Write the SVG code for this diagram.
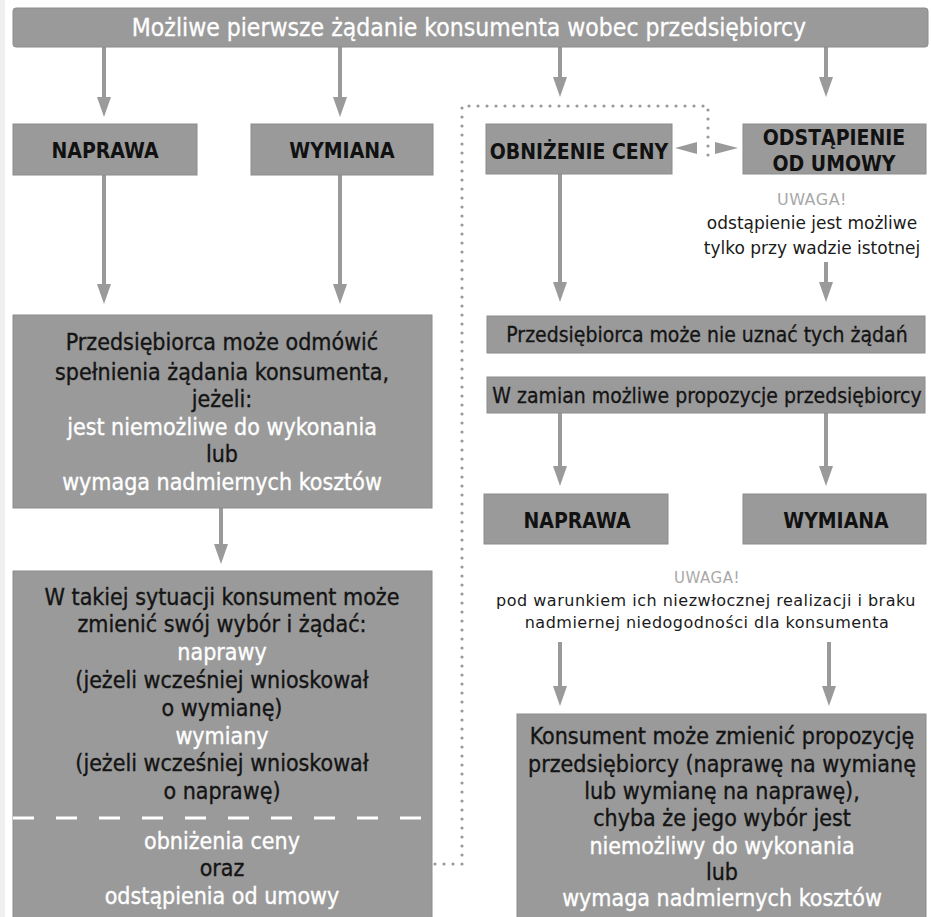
<svg xmlns="http://www.w3.org/2000/svg" width="931" height="917" viewBox="0 0 931 917">
<defs>
<style>
.box{fill:#9a9a9a;stroke:#8c8c8c;stroke-width:1}
.t{font-family:"DejaVu Sans Condensed","DejaVu Sans",sans-serif;text-anchor:middle}
.body{font-size:23px;stroke-width:0.35}
.mid{font-size:21px;stroke-width:0.3}
.lbl{font-size:21px;font-weight:bold;fill:#111}
.blk{fill:#141414;stroke:#141414}
.wht{fill:#ffffff;stroke:#ffffff}
.note{font-family:"DejaVu Sans",sans-serif;text-anchor:middle;fill:#1a1a1a;font-size:16px;letter-spacing:0.5px}
.uw{fill:#a8a8a8}
.conn{stroke:#9a9a9a;stroke-width:4;fill:none}
.dot{stroke:#9a9a9a;stroke-width:3.2;fill:none;stroke-dasharray:0 9;stroke-linecap:round}
.head{fill:#9a9a9a}
</style>
<marker id="arr" viewBox="0 0 20 14" refX="1" refY="7" markerWidth="20" markerHeight="14" markerUnits="userSpaceOnUse" orient="auto">
<path d="M0,0 L20,7 L0,14 z" fill="#9a9a9a"/>
</marker>
</defs>
<rect x="0" y="0" width="931" height="917" fill="#ffffff"/>
<rect x="0" y="0" width="5" height="917" fill="#efefef"/>

<g id="connectors">
<line class="conn" x1="104" y1="47" x2="104" y2="98" marker-end="url(#arr)"/>
<line class="conn" x1="340" y1="47" x2="340" y2="98" marker-end="url(#arr)"/>
<line class="conn" x1="560" y1="47" x2="560" y2="78" marker-end="url(#arr)"/>
<line class="conn" x1="826" y1="47" x2="826" y2="78" marker-end="url(#arr)"/>
<line class="conn" x1="104" y1="175" x2="104" y2="285" marker-end="url(#arr)"/>
<line class="conn" x1="340" y1="175" x2="340" y2="285" marker-end="url(#arr)"/>
<line class="conn" x1="560" y1="174" x2="560" y2="283" marker-end="url(#arr)"/>
<line class="conn" x1="826" y1="262" x2="826" y2="283" marker-end="url(#arr)"/>
<line class="conn" x1="221" y1="508" x2="221" y2="545" marker-end="url(#arr)"/>
<line class="conn" x1="560" y1="413" x2="560" y2="467" marker-end="url(#arr)"/>
<line class="conn" x1="826" y1="413" x2="826" y2="467" marker-end="url(#arr)"/>
<line class="conn" x1="560" y1="642" x2="560" y2="687" marker-end="url(#arr)"/>
<line class="conn" x1="829" y1="642" x2="829" y2="687" marker-end="url(#arr)"/>
<path class="dot" d="M435,864 H462 V106 H708 V157"/>
<polygon class="head" points="675,148 697,142 697,154"/>
<polygon class="head" points="738,148 715,142 715,154"/>
</g>

<g id="title">
<rect class="box" x="13" y="8" width="915" height="39" rx="3"/>
<text class="t wht" x="469" y="36" font-size="24.5" stroke-width="0.3">Możliwe pierwsze żądanie konsumenta wobec przedsiębiorcy</text>
</g>

<g id="naprawa1">
<rect class="box" x="13" y="124" width="184" height="51"/>
<text class="t lbl" x="105" y="158">NAPRAWA</text>
</g>

<g id="wymiana1">
<rect class="box" x="251" y="124" width="182" height="51"/>
<text class="t lbl" x="342" y="158">WYMIANA</text>
</g>

<g id="obnizenie">
<rect class="box" x="486" y="124" width="186" height="50"/>
<text class="t lbl" x="579" y="159">OBNIŻENIE CENY</text>
</g>

<g id="odstapienie">
<rect class="box" x="743" y="124" width="183" height="50"/>
<text class="t lbl" x="834" y="145">ODSTĄPIENIE</text>
<text class="t lbl" x="834" y="171">OD UMOWY</text>
</g>

<g id="uwaga1">
<text class="note uw" x="812" y="205">UWAGA!</text>
<text class="note" x="812" y="229" style="font-size:17px;letter-spacing:0">odstąpienie jest możliwe</text>
<text class="note" x="812" y="254" style="font-size:17px;letter-spacing:0">tylko przy wadzie istotnej</text>
</g>

<g id="odmowa">
<rect class="box" x="13" y="315" width="419" height="193"/>
<text class="t body blk" x="222" y="350">Przedsiębiorca może odmówić</text>
<text class="t body blk" x="222" y="380">spełnienia żądania konsumenta,</text>
<text class="t body blk" x="222" y="407">jeżeli:</text>
<text class="t body wht" x="222" y="435">jest niemożliwe do wykonania</text>
<text class="t body blk" x="222" y="462">lub</text>
<text class="t body wht" x="222" y="490">wymaga nadmiernych kosztów</text>
</g>

<g id="zmiana">
<rect class="box" x="13" y="571" width="419" height="360"/>
<text class="t body blk" x="222" y="605">W takiej sytuacji konsument może</text>
<text class="t body blk" x="222" y="632">zmienić swój wybór i żądać:</text>
<text class="t body wht" x="222" y="660">naprawy</text>
<text class="t body blk" x="222" y="688">(jeżeli wcześniej wnioskował</text>
<text class="t body blk" x="222" y="716">o wymianę)</text>
<text class="t body wht" x="222" y="744">wymiany</text>
<text class="t body blk" x="222" y="771">(jeżeli wcześniej wnioskował</text>
<text class="t body blk" x="222" y="799">o naprawę)</text>
<line x1="13" y1="818" x2="432" y2="818" stroke="#ffffff" stroke-width="3" stroke-dasharray="21 22"/>
<text class="t body wht" x="222" y="849">obniżenia ceny</text>
<text class="t body blk" x="222" y="876">oraz</text>
<text class="t body wht" x="222" y="904">odstąpienia od umowy</text>
</g>

<g id="nieuznanie">
<rect class="box" x="487" y="316" width="438" height="37"/>
<text class="t mid blk" x="707" y="342">Przedsiębiorca może nie uznać tych żądań</text>
</g>

<g id="wzamian">
<rect class="box" x="487" y="377" width="438" height="36"/>
<text class="t mid blk" x="707" y="403">W zamian możliwe propozycje przedsiębiorcy</text>
</g>

<g id="naprawa2">
<rect class="box" x="484" y="494" width="184" height="50"/>
<text class="t lbl" x="577" y="528">NAPRAWA</text>
</g>

<g id="wymiana2">
<rect class="box" x="743" y="494" width="183" height="50"/>
<text class="t lbl" x="836" y="528">WYMIANA</text>
</g>

<g id="uwaga2">
<text class="note uw" x="707" y="583" style="font-size:15px">UWAGA!</text>
<text class="note" x="706" y="606">pod warunkiem ich niezwłocznej realizacji i braku</text>
<text class="note" x="707" y="628">nadmiernej niedogodności dla konsumenta</text>
</g>

<g id="propozycja">
<rect class="box" x="517" y="714" width="409" height="220"/>
<text class="t body blk" x="722" y="744">Konsument może zmienić propozycję</text>
<text class="t body blk" x="722" y="772">przedsiębiorcy (naprawę na wymianę</text>
<text class="t body blk" x="722" y="799">lub wymianę na naprawę),</text>
<text class="t body blk" x="722" y="826">chyba że jego wybór jest</text>
<text class="t body wht" x="722" y="854">niemożliwy do wykonania</text>
<text class="t body blk" x="722" y="880">lub</text>
<text class="t body wht" x="722" y="906">wymaga nadmiernych kosztów</text>
</g>
</svg>
